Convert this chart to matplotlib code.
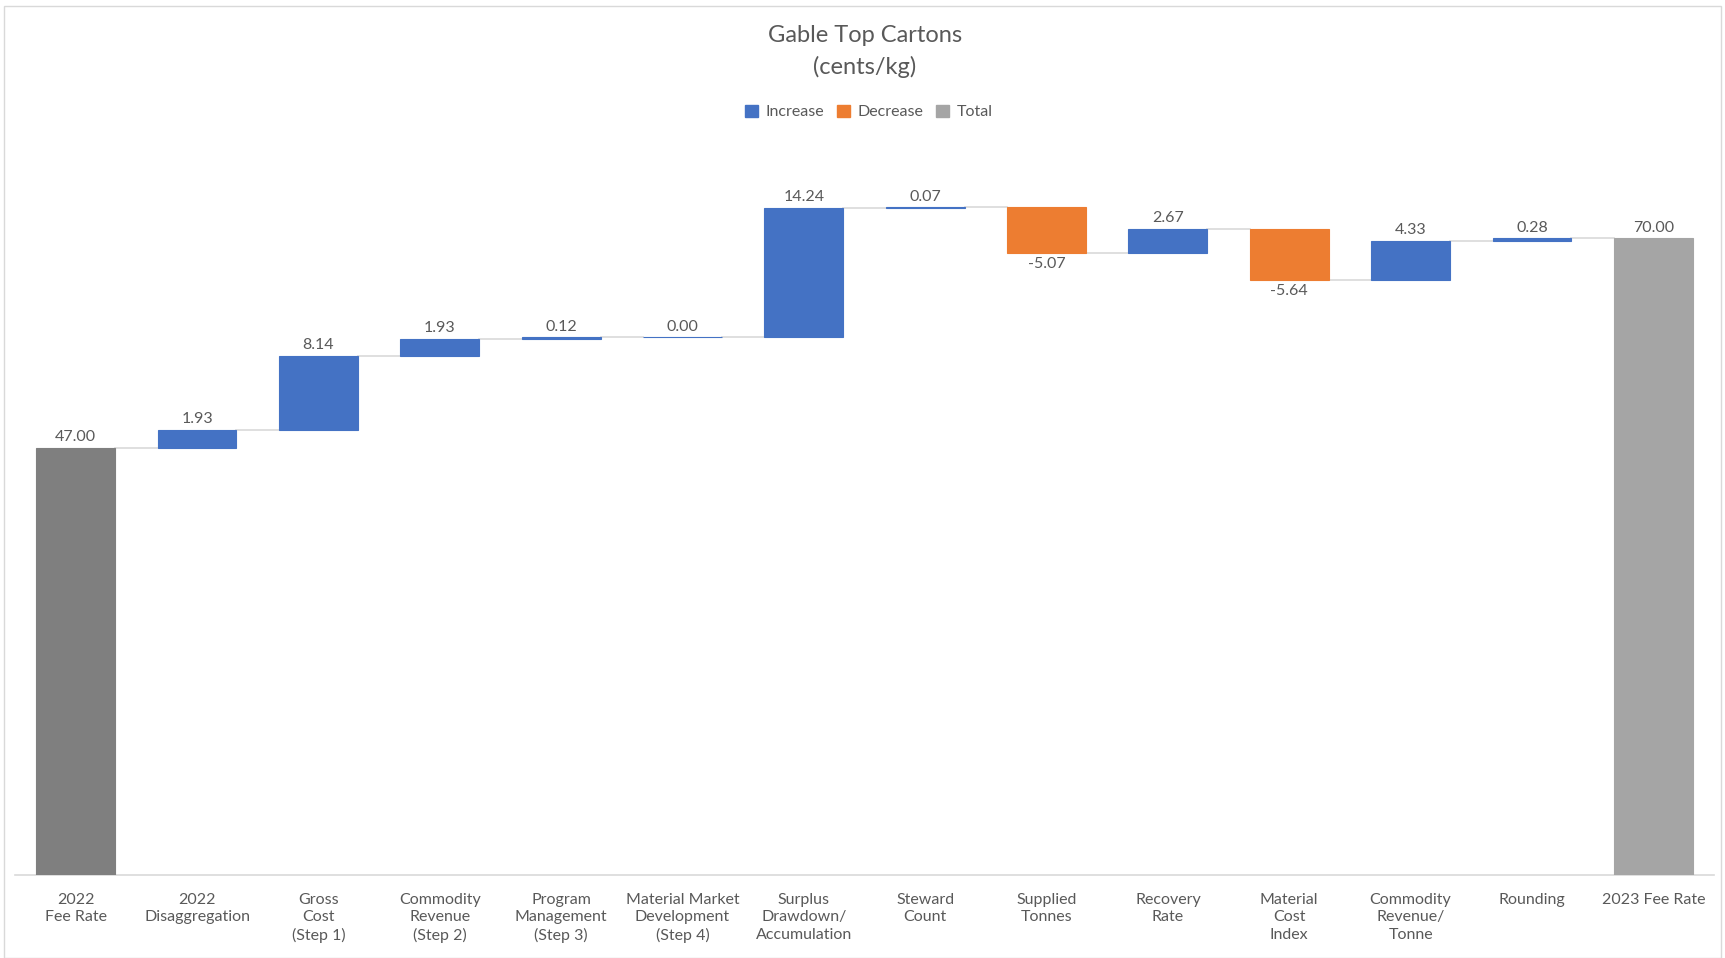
import numpy as np
import matplotlib.pyplot as plt
from matplotlib.patches import Rectangle

# ------------------------------------------------------------
# Data
# ------------------------------------------------------------
categories = [
    "2022\nFee Rate", "2022\nDisaggregation", "Gross\nCost\n(Step 1)",
    "Commodity\nRevenue\n(Step 2)", "Program\nManagement\n(Step 3)",
    "Material Market\nDevelopment\n(Step 4)", "Surplus\nDrawdown/\nAccumulation",
    "Steward\nCount", "Supplied\nTonnes", "Recovery\nRate",
    "Material\nCost\nIndex", "Commodity\nRevenue/\nTonne", "Rounding",
    "2023 Fee Rate",
]
start_value = 47.00
changes = [1.93, 8.14, 1.93, 0.12, 0.00, 14.24, 0.07, -5.07, 2.67, -5.64, 4.33, 0.28]
end_value = 70.00

c_inc = "#4472C4"
c_dec = "#ED7D31"
c_total = "#A5A5A5"
c_first = "#7F7F7F"
c_text = "#595959"

plt.rcParams["font.family"] = ["Lato", "DejaVu Sans"]

W, H = 1725, 958
fig = plt.figure(figsize=(W / 100, H / 100), dpi=100)
fig.patches.append(Rectangle((4 / W, 0), 1 - 8 / W, 1 - 6 / H, transform=fig.transFigure,
                             fill=False, edgecolor="#D9D9D9", lw=1))

ax = fig.add_axes([15 / W, (H - 875) / H, (1714 - 15) / W, (875 - 143) / H])

width = 0.65
x = np.arange(len(categories))

# build bottoms / heights
bottoms, heights, colors = [0], [start_value], [c_first]
level = start_value
levels = [level]
for ch in changes:
    new_level = level + ch
    bottoms.append(min(level, new_level))
    heights.append(abs(ch))
    colors.append(c_inc if ch >= 0 else c_dec)
    level = new_level
    levels.append(level)
bottoms.append(0)
heights.append(end_value)
colors.append(c_total)
levels.append(end_value)

ax.bar(x, heights, width=width, bottom=bottoms, color=colors, edgecolor=colors,
       linewidth=0.8, zorder=3)

# connector lines
for i in range(len(x) - 1):
    ax.plot([x[i] + width / 2, x[i + 1] - width / 2], [levels[i], levels[i]],
            color="#D9D9D9", lw=1.2, zorder=2)

# data labels
vals = [start_value] + changes + [end_value]
for i, v in enumerate(vals):
    if v < 0:
        y = bottoms[i]
        ax.text(x[i], y - 0.4, f"{v:.2f}", ha="center", va="top", fontsize=11.5, color=c_text)
    else:
        y = bottoms[i] + heights[i]
        ax.text(x[i], y + 0.4, f"{v:.2f}", ha="center", va="bottom", fontsize=11.5, color=c_text)

ax.set_xlim(-0.5, len(categories) - 0.5)
ax.set_ylim(0, 80.5)
ax.set_yticks([])
ax.set_xticks(x)
ax.set_xticklabels(categories, fontsize=11.5, color=c_text, linespacing=1.3)
ax.tick_params(axis="x", length=0, pad=13)
for s in ["top", "right", "left"]:
    ax.spines[s].set_visible(False)
ax.spines["bottom"].set_color("#D9D9D9")
ax.spines["bottom"].set_linewidth(1.2)

fig.text(865 / W, 1 - 35 / H, "Gable Top Cartons", ha="center", va="center", fontsize=17, color=c_text)
fig.text(865 / W, 1 - 67 / H, "(cents/kg)", ha="center", va="center", fontsize=17, color=c_text)

handles = [Rectangle((0, 0), 1, 1, color=c) for c in (c_inc, c_dec, c_total)]
fig.legend(handles, ["Increase", "Decrease", "Total"], loc="center", ncol=3,
           bbox_to_anchor=(869 / W, 1 - 112 / H), frameon=False, fontsize=11.5,
           labelcolor=c_text, handlelength=0.8, handleheight=0.8, handletextpad=0.5,
           columnspacing=0.8)

fig.savefig("out.png", dpi=100)
